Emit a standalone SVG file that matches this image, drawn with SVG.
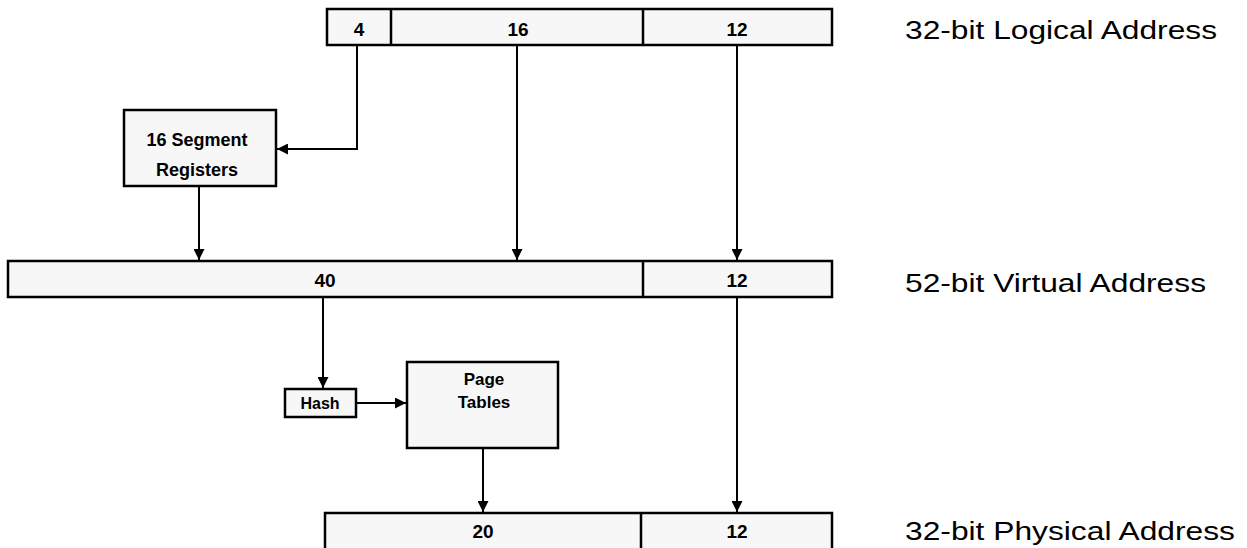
<svg xmlns="http://www.w3.org/2000/svg" width="1247" height="548" viewBox="0 0 1247 548">
<style>
.f{fill:#f7f7f7;stroke:#000;stroke-width:2.5}
.d{stroke:#000;stroke-width:2.5}
.n{font-family:"Liberation Sans",Arial,sans-serif;font-size:19px;font-weight:bold;text-anchor:middle;fill:#000}
.b{font-family:"Liberation Sans",Arial,sans-serif;font-size:17px;font-weight:bold;text-anchor:middle;fill:#000}
.l{font-family:"Liberation Sans",Arial,sans-serif;font-size:25px;fill:#000}
.c{fill:none;stroke:#000;stroke-width:2}
</style>
<defs>
<marker id="a" viewBox="0 0 10 10" refX="10" refY="5" markerWidth="11" markerHeight="11" markerUnits="userSpaceOnUse" orient="auto"><path d="M0,0 L10,5 L0,10 z" fill="#000"/></marker>
</defs>
<rect width="1247" height="548" fill="#fff"/>
<g id="logical">
<rect class="f" x="327" y="9" width="505" height="36"/>
<line class="d" x1="391" y1="9" x2="391" y2="45"/>
<line class="d" x1="643" y1="9" x2="643" y2="45"/>
<text class="n" x="359" y="36">4</text>
<text class="n" x="518" y="36">16</text>
<text class="n" x="737" y="36">12</text>
</g>
<g id="segregs">
<rect class="f" x="124" y="110" width="152" height="76"/>
<text class="b" x="197" y="146" style="font-size:18px">16 Segment</text>
<text class="b" x="197" y="176" style="font-size:18px">Registers</text>
</g>
<g id="virtual">
<rect class="f" x="8" y="261" width="824" height="36"/>
<line class="d" x1="643" y1="261" x2="643" y2="297"/>
<text class="n" x="325" y="287">40</text>
<text class="n" x="737" y="287">12</text>
</g>
<g id="hash">
<rect class="f" x="285" y="389" width="71" height="28"/>
<text class="b" x="320" y="409" style="font-size:16px">Hash</text>
</g>
<g id="pagetables">
<rect class="f" x="407" y="362" width="151" height="86"/>
<text class="b" x="484" y="385">Page</text>
<text class="b" x="484" y="408">Tables</text>
</g>
<g id="physical">
<rect class="f" x="325" y="513" width="507" height="40"/>
<line class="d" x1="641" y1="513" x2="641" y2="548"/>
<text class="n" x="483" y="538">20</text>
<text class="n" x="737" y="538">12</text>
</g>
<g id="labels">
<text class="l" x="905" y="39" textLength="312" lengthAdjust="spacingAndGlyphs">32-bit Logical Address</text>
<text class="l" x="905" y="292" textLength="301" lengthAdjust="spacingAndGlyphs">52-bit Virtual Address</text>
<text class="l" x="905" y="540" textLength="330" lengthAdjust="spacingAndGlyphs">32-bit Physical Address</text>
</g>
<g id="connectors">
<path class="c" d="M357,46 V149 H277" marker-end="url(#a)"/>
<path class="c" d="M199,187 V260" marker-end="url(#a)"/>
<path class="c" d="M517,46 V260" marker-end="url(#a)"/>
<path class="c" d="M737,46 V260" marker-end="url(#a)"/>
<path class="c" d="M323,298 V388" marker-end="url(#a)"/>
<path class="c" d="M357,403 H406" marker-end="url(#a)"/>
<path class="c" d="M483,449 V512" marker-end="url(#a)"/>
<path class="c" d="M737,298 V512" marker-end="url(#a)"/>
</g>
</svg>
